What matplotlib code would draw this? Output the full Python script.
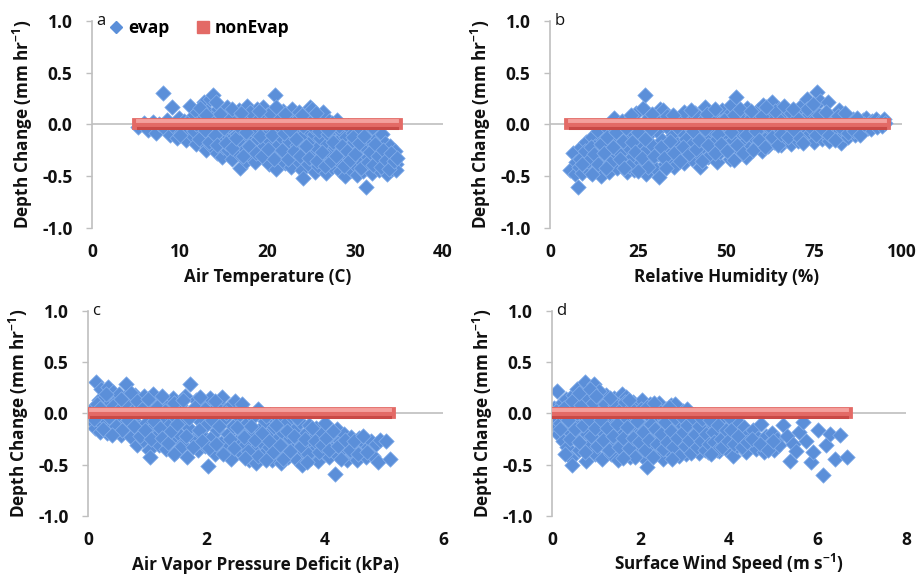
import numpy as np
import matplotlib.pyplot as plt
import matplotlib.transforms as mtransforms
from matplotlib.lines import Line2D

plt.rcParams['font.family'] = ['Open Sans', 'DejaVu Sans']
plt.rcParams['font.weight'] = 'bold'
plt.rcParams['axes.unicode_minus'] = False
plt.rcParams['mathtext.fontset'] = 'custom'
plt.rcParams['mathtext.rm'] = 'Open Sans:bold'
plt.rcParams['mathtext.default'] = 'regular'

# ---- data: (x, depth change) ----
temp_pts = [
    (5.3, -0.02), (5.9, 0.01), (6.4, -0.05), (6.9, 0.02), (7.3, -0.08), (7.6, 0.0), (8.1, 0.30), (8.3, -0.04),
    (8.6, 0.04), (8.9, -0.10), (9.1, 0.17), (9.4, -0.02), (9.7, -0.13), (9.9, 0.06), (10.2, -0.07), (10.5, 0.03),
    (10.7, -0.15), (11.0, -0.04), (11.2, 0.18), (11.4, 0.07), (11.5, -0.11), (11.8, -0.19), (12.0, 0.12), (12.1, -0.02),
    (12.4, -0.09), (12.5, 0.05), (12.7, -0.17), (12.8, 0.22), (13.0, -0.25), (13.1, 0.13), (13.2, 0.01), (13.4, 0.25),
    (13.5, -0.12), (13.6, -0.21), (13.8, 0.28), (13.9, 0.08), (14.1, -0.05), (14.2, -0.28), (14.4, 0.15), (14.5, -0.16),
    (14.7, 0.03), (14.8, -0.31), (14.9, -0.22), (15.1, 0.10), (15.2, -0.08), (15.4, 0.17), (15.5, -0.25), (15.6, -0.01),
    (15.8, -0.14), (15.9, -0.33), (16.1, 0.12), (16.2, -0.20), (16.3, 0.04), (16.5, -0.09), (16.6, -0.28), (16.8, 0.14),
    (16.9, -0.42), (17.0, -0.03), (17.1, -0.17), (17.3, 0.07), (17.4, -0.24), (17.5, -0.35), (17.7, 0.18), (17.8, -0.11),
    (17.9, 0.01), (18.1, -0.31), (18.2, 0.10), (18.3, -0.19), (18.5, -0.06), (18.6, -0.36), (18.8, 0.15), (18.9, -0.14),
    (19.0, -0.26), (19.2, 0.04), (19.3, -0.02), (19.5, 0.17), (19.6, -0.21), (19.7, -0.33), (19.9, -0.09), (20.0, 0.09),
    (20.2, -0.38), (20.3, -0.16), (20.4, 0.00), (20.6, -0.27), (20.7, 0.14), (20.9, 0.28), (21.0, -0.43), (21.1, -0.07),
    (21.2, -0.20), (21.4, 0.06), (21.5, -0.31), (21.7, -0.13), (21.8, 0.13), (22.0, -0.37), (22.1, -0.03), (22.2, -0.24),
    (22.4, 0.08), (22.5, -0.16), (22.7, -0.41), (22.8, 0.15), (22.9, -0.29), (23.1, -0.08), (23.2, 0.03), (23.4, -0.20),
    (23.5, -0.35), (23.6, 0.12), (23.8, -0.12), (23.9, -0.44), (24.1, -0.52), (24.2, -0.26), (24.3, 0.06), (24.5, -0.04),
    (24.6, -0.38), (24.8, 0.17), (24.9, -0.17), (25.0, -0.30), (25.1, 0.15), (25.3, -0.09), (25.4, -0.46), (25.5, 0.02),
    (25.7, -0.23), (25.8, -0.40), (26.0, -0.13), (26.1, 0.08), (26.3, 0.12), (26.4, -0.33), (26.5, -0.05), (26.7, -0.47),
    (26.8, -0.19), (27.0, 0.03), (27.1, -0.28), (27.3, -0.10), (27.4, -0.41), (27.6, -0.02), (27.7, -0.22), (27.9, 0.04),
    (28.0, -0.35), (28.1, -0.15), (28.3, -0.45), (28.4, -0.06), (28.6, -0.27), (28.8, -0.50), (28.9, -0.12), (29.0, -0.38),
    (29.2, -0.01), (29.3, -0.21), (29.5, -0.44), (29.6, -0.30), (29.8, -0.08), (29.9, -0.17), (30.1, -0.40), (30.2, -0.49),
    (30.3, -0.25), (30.5, -0.04), (30.6, -0.34), (30.8, -0.14), (30.9, -0.45), (31.1, -0.22), (31.2, -0.60), (31.3, -0.08),
    (31.5, -0.31), (31.6, -0.40), (31.8, -0.17), (31.9, -0.47), (32.1, -0.26), (32.2, -0.05), (32.4, -0.36), (32.5, -0.13),
    (32.7, -0.44), (32.8, -0.22), (33.0, -0.31), (33.1, -0.09), (33.3, -0.40), (33.4, -0.18), (33.6, -0.48), (33.7, -0.27),
    (33.9, -0.35), (34.0, -0.21), (34.2, -0.43), (34.3, -0.30), (34.5, -0.26), (34.6, -0.38), (34.7, -0.44),
]
temp_pts_core = [
    (10.0, -0.10), (10.8, 0.01), (11.6, -0.06), (12.2, -0.14), (12.9, -0.05), (13.3, -0.17), (13.7, 0.02), (14.0, -0.10),
    (14.3, -0.20), (14.6, 0.10), (15.0, -0.03), (15.3, -0.18), (15.7, 0.05), (16.0, -0.23), (16.4, -0.13), (16.7, -0.02),
    (17.2, -0.30), (17.6, -0.07), (17.9, -0.21), (18.4, 0.04), (18.7, -0.28), (19.1, -0.11), (19.4, -0.30), (19.8, 0.01),
    (20.1, -0.24), (20.5, -0.10), (20.8, -0.33), (21.3, -0.01), (21.6, -0.25), (21.9, -0.08), (22.3, -0.33), (22.6, -0.05),
    (23.0, -0.26), (23.3, -0.14), (23.7, -0.30), (24.0, -0.01), (24.4, -0.21), (24.7, -0.32), (25.2, -0.02), (25.6, -0.35),
    (25.9, -0.06), (26.2, -0.27), (26.6, -0.40), (26.9, -0.09), (27.2, -0.35), (27.5, -0.17), (27.8, -0.30), (28.2, -0.01),
    (28.5, -0.21), (28.7, -0.40), (29.1, -0.26), (29.4, -0.34), (29.7, -0.12), (30.0, -0.29), (30.4, -0.18), (30.7, -0.42),
    (31.0, -0.11), (31.4, -0.36), (31.7, -0.27), (32.0, -0.39), (32.3, -0.19), (32.6, -0.30), (32.9, -0.41), (33.2, -0.25),
    (33.5, -0.34), (33.8, -0.43), (34.1, -0.28), (34.4, -0.35), (34.8, -0.32), (16.0, 0.15), (18.0, 0.12), (20.3, 0.11),
    (22.0, 0.10), (23.9, 0.09), (25.5, 0.11), (27.3, 0.01), (11.9, 0.00), (12.3, 0.16), (14.1, 0.22), (13.0, 0.09),
    (19.0, 0.13), (26.9, -0.05), (21.0, 0.17), (17.0, 0.11),
]

rh_pts = [
    (5.8, -0.44), (6.5, -0.28), (7.0, -0.48), (7.5, -0.36), (8.0, -0.60), (8.3, -0.41), (8.8, -0.22), (9.2, -0.47),
    (9.6, -0.31), (10.1, -0.17), (10.5, -0.40), (11.0, -0.26), (11.4, -0.46), (11.9, -0.12), (12.3, -0.34), (12.8, -0.21),
    (13.2, -0.44), (13.7, -0.06), (14.1, -0.29), (14.6, -0.50), (15.0, -0.15), (15.5, -0.38), (15.9, -0.02), (16.4, -0.24),
    (16.8, -0.46), (17.3, -0.10), (17.7, -0.33), (18.2, 0.06), (18.6, -0.19), (19.1, -0.42), (19.5, -0.04), (20.0, -0.28),
    (20.4, 0.03), (20.9, -0.37), (21.3, -0.14), (21.8, -0.46), (22.2, -0.22), (22.7, 0.05), (23.1, -0.32), (23.6, -0.08),
    (24.0, -0.44), (24.5, 0.11), (24.9, -0.18), (25.4, -0.38), (25.8, -0.01), (26.3, 0.16), (26.7, -0.27), (27.0, 0.28),
    (27.2, -0.48), (27.6, -0.11), (28.1, 0.07), (28.5, -0.35), (29.0, -0.20), (29.4, 0.02), (29.9, -0.42), (30.3, -0.06),
    (30.8, -0.29), (31.0, -0.51), (31.3, 0.15), (31.7, -0.15), (32.2, 0.14), (32.6, -0.38), (33.1, -0.02), (33.5, -0.24),
    (34.0, 0.05), (34.4, -0.33), (34.9, -0.10), (35.3, -0.41), (35.8, 0.03), (36.2, -0.19), (36.7, -0.30), (37.1, -0.06),
    (37.6, 0.09), (38.0, -0.37), (38.5, -0.14), (38.9, -0.25), (39.4, 0.06), (39.8, -0.03), (40.3, -0.33), (40.7, -0.18),
    (41.2, 0.11), (41.6, -0.09), (42.1, -0.28), (42.5, -0.41), (43.0, 0.02), (43.4, -0.21), (43.9, 0.17), (44.3, -0.12),
    (44.8, -0.31), (45.2, 0.07), (45.7, -0.04), (46.1, -0.24), (46.6, 0.13), (47.0, -0.16), (47.5, -0.36), (47.9, 0.01),
    (48.4, -0.27), (48.8, 0.14), (49.3, -0.10), (49.7, -0.21), (50.2, 0.08), (50.6, -0.02), (51.1, -0.33), (51.5, 0.19),
    (52.0, -0.15), (52.4, -0.34), (52.9, 0.27), (53.3, 0.05), (53.8, -0.25), (54.2, -0.08), (54.7, 0.12), (55.1, -0.18),
    (55.6, -0.31), (56.0, 0.16), (56.5, -0.03), (56.9, -0.22), (57.4, 0.09), (57.8, -0.12), (58.3, 0.01), (58.7, -0.20),
    (59.2, 0.14), (59.6, -0.07), (60.1, -0.26), (60.5, 0.19), (61.0, -0.14), (61.4, 0.04), (61.9, -0.21), (62.3, 0.10),
    (62.8, -0.05), (63.2, 0.22), (63.7, -0.17), (64.1, 0.02), (64.6, -0.10), (65.0, 0.15), (65.5, -0.20), (65.9, 0.07),
    (66.4, -0.02), (66.8, -0.15), (67.3, 0.12), (67.7, -0.07), (68.2, 0.03), (68.6, -0.19), (69.1, 0.09), (69.5, -0.11),
    (70.0, -0.01), (70.4, -0.16), (70.9, 0.12), (71.3, 0.18), (71.8, -0.06), (72.2, 0.04), (72.7, -0.13), (73.1, 0.25),
    (73.6, 0.10), (74.0, -0.08), (74.5, 0.02), (74.9, -0.17), (75.4, 0.13), (75.8, 0.31), (76.3, -0.03), (76.7, 0.23),
    (77.2, -0.14), (77.6, 0.06), (78.1, -0.09), (78.5, 0.01), (79.0, 0.22), (79.4, -0.16), (79.9, -0.05), (80.3, 0.07),
    (80.8, -0.11), (81.2, 0.03), (81.7, -0.07), (82.1, 0.14), (82.6, -0.18), (83.0, 0.00), (83.5, -0.09), (83.9, 0.06),
    (84.4, -0.04), (84.8, -0.12), (85.3, 0.02), (85.7, -0.06), (86.2, 0.05), (86.6, -0.10), (87.1, -0.02), (87.5, 0.03),
    (88.0, -0.07), (88.4, -0.01), (88.9, 0.04), (89.3, -0.05), (89.8, 0.06), (90.2, -0.03), (90.7, 0.01), (91.1, -0.04),
    (91.6, 0.03), (92.0, 0.00), (92.5, 0.05), (93.0, -0.02), (93.6, 0.02), (94.2, -0.01), (94.8, 0.05), (95.3, 0.01),
]
rh_pts_core = [
    (8.5, -0.33), (9.9, -0.26), (10.8, -0.35), (11.7, -0.22), (12.6, -0.29), (13.5, -0.38), (14.4, -0.19), (15.2, -0.28),
    (16.1, -0.12), (17.0, -0.37), (17.9, -0.22), (18.8, -0.07), (19.8, -0.33), (20.6, -0.16), (21.5, -0.03), (22.4, -0.40),
    (23.3, -0.17), (24.2, -0.27), (25.1, -0.07), (26.0, -0.32), (26.9, -0.14), (27.8, -0.41), (28.7, -0.04), (29.6, -0.30),
    (30.5, 0.04), (31.5, -0.22), (32.4, -0.32), (33.3, 0.08), (34.2, -0.16), (35.1, -0.28), (36.0, -0.02), (36.9, -0.35),
    (37.8, -0.22), (38.7, 0.01), (39.6, -0.29), (40.5, -0.06), (41.4, -0.24), (42.3, -0.15), (43.2, -0.35), (44.1, -0.04),
    (45.0, -0.20), (45.9, 0.10), (46.8, -0.28), (47.7, -0.09), (48.6, -0.19), (49.5, 0.04), (50.4, -0.26), (51.3, -0.07),
    (52.2, 0.09), (53.1, -0.20), (54.0, 0.15), (54.9, -0.28), (55.8, -0.10), (56.7, 0.05), (57.6, -0.25), (58.5, -0.06),
    (59.4, -0.15), (60.3, 0.08), (61.2, -0.22), (62.1, -0.01), (63.0, -0.12), (63.9, 0.13), (64.8, -0.20), (65.7, -0.09),
    (66.6, 0.18), (67.5, -0.12), (68.4, 0.11), (69.3, -0.05), (70.2, 0.06), (71.1, -0.13), (72.0, -0.18), (72.9, 0.15),
    (73.8, -0.02), (74.7, 0.20), (75.6, -0.10), (76.5, 0.09), (77.4, -0.04), (78.3, 0.12), (79.2, -0.10), (80.1, 0.01),
    (81.0, -0.15), (81.9, 0.08), (82.8, -0.03), (83.7, 0.11), (84.6, -0.08), (85.5, -0.02), (86.4, -0.06), (87.3, 0.06),
    (88.2, -0.10), (89.1, 0.00), (38.0, 0.12), (44.5, 0.10), (40.0, 0.14), (47.0, 0.15), (57.0, 0.13), (61.5, 0.17),
    (69.0, 0.15), (23.0, 0.09), (29.0, 0.10), (35.0, 0.09), (9.0, -0.38), (12.0, -0.48), (16.0, -0.42), (21.0, -0.42),
    (25.0, -0.45), (33.0, -0.42),
]

vpd_pts = [
    (0.05, 0.02), (0.08, -0.08), (0.10, 0.06), (0.12, -0.14), (0.14, 0.31), (0.16, -0.03), (0.18, 0.13), (0.20, -0.18),
    (0.22, 0.24), (0.24, -0.10), (0.26, 0.04), (0.28, 0.16), (0.30, -0.06), (0.32, -0.19), (0.34, 0.26), (0.36, 0.09),
    (0.38, -0.13), (0.40, 0.01), (0.42, 0.21), (0.45, -0.17), (0.47, 0.12), (0.50, -0.04), (0.52, 0.19), (0.55, -0.21),
    (0.57, 0.06), (0.60, -0.10), (0.62, 0.16), (0.65, 0.29), (0.67, -0.15), (0.70, 0.03), (0.72, -0.23), (0.75, 0.13),
    (0.77, -0.07), (0.80, 0.18), (0.82, -0.31), (0.85, 0.00), (0.88, -0.18), (0.90, 0.10), (0.93, -0.26), (0.95, 0.17),
    (0.98, -0.09), (1.00, 0.05), (1.03, -0.36), (1.05, -0.42), (1.07, -0.15), (1.10, 0.19), (1.12, 0.02), (1.15, -0.22),
    (1.18, 0.10), (1.20, -0.31), (1.23, -0.05), (1.26, 0.13), (1.28, -0.18), (1.31, -0.35), (1.34, 0.06), (1.37, -0.11),
    (1.40, -0.26), (1.43, 0.15), (1.46, -0.02), (1.49, -0.38), (1.52, -0.19), (1.55, 0.08), (1.58, -0.30), (1.61, -0.08),
    (1.64, 0.17), (1.67, -0.42), (1.70, -0.14), (1.73, 0.29), (1.76, 0.01), (1.79, -0.25), (1.82, 0.13), (1.85, -0.36),
    (1.88, -0.06), (1.91, -0.20), (1.94, 0.11), (1.97, -0.32), (2.00, -0.11), (2.03, -0.51), (2.06, 0.15), (2.09, -0.23),
    (2.12, 0.03), (2.15, -0.40), (2.18, -0.16), (2.21, 0.09), (2.24, -0.29), (2.27, 0.16), (2.30, -0.05), (2.33, -0.35),
    (2.36, -0.20), (2.39, 0.06), (2.42, -0.44), (2.45, -0.12), (2.48, 0.12), (2.51, -0.27), (2.54, -0.02), (2.57, -0.38),
    (2.60, -0.18), (2.63, 0.03), (2.66, -0.31), (2.69, -0.09), (2.72, -0.45), (2.75, -0.22), (2.78, -0.03), (2.81, -0.36),
    (2.84, -0.48), (2.87, 0.04), (2.90, -0.15), (2.93, -0.28), (2.96, -0.40), (2.99, -0.07), (3.02, -0.21), (3.05, -0.33),
    (3.08, -0.01), (3.11, -0.45), (3.14, -0.13), (3.17, -0.26), (3.20, -0.38), (3.23, -0.05), (3.26, -0.48), (3.29, -0.19),
    (3.32, -0.31), (3.35, -0.09), (3.38, -0.42), (3.41, -0.24), (3.44, -0.03), (3.47, -0.35), (3.50, -0.15), (3.53, -0.45),
    (3.56, -0.27), (3.59, -0.08), (3.62, -0.50), (3.65, -0.38), (3.68, -0.19), (3.71, -0.30), (3.74, -0.11), (3.77, -0.43),
    (3.80, -0.24), (3.83, -0.35), (3.86, -0.14), (3.89, -0.46), (3.92, -0.28), (3.95, -0.19), (3.98, -0.39), (4.01, -0.09),
    (4.04, -0.31), (4.07, -0.42), (4.10, -0.22), (4.13, -0.35), (4.17, -0.59), (4.20, -0.15), (4.23, -0.41), (4.26, -0.27),
    (4.30, -0.36), (4.33, -0.20), (4.37, -0.45), (4.40, -0.30), (4.44, -0.23), (4.47, -0.40), (4.51, -0.33), (4.55, -0.45),
    (4.58, -0.24), (4.62, -0.37), (4.66, -0.29), (4.70, -0.42), (4.74, -0.33), (4.78, -0.27), (4.82, -0.41), (4.86, -0.30),
    (4.90, -0.47), (4.94, -0.26), (5.04, -0.27), (5.10, -0.44),
]
vpd_pts_core = [
    (0.10, -0.05), (0.15, 0.09), (0.25, -0.15), (0.30, 0.19), (0.35, -0.03), (0.43, 0.07), (0.48, -0.12), (0.53, 0.03),
    (0.58, -0.16), (0.63, 0.10), (0.68, -0.06), (0.73, 0.20), (0.78, -0.12), (0.83, 0.12), (0.87, -0.22), (0.92, 0.04),
    (0.97, -0.16), (1.02, 0.14), (1.06, -0.25), (1.11, -0.07), (1.16, 0.06), (1.21, -0.14), (1.25, -0.24), (1.30, 0.02),
    (1.35, -0.29), (1.41, -0.17), (1.45, 0.10), (1.50, -0.10), (1.56, -0.34), (1.60, 0.13), (1.65, -0.22), (1.71, -0.04),
    (1.77, -0.33), (1.81, 0.06), (1.87, -0.16), (1.93, -0.27), (1.98, 0.04), (2.04, -0.34), (2.10, -0.06), (2.16, -0.30),
    (2.22, -0.12), (2.28, -0.40), (2.34, 0.00), (2.40, -0.25), (2.46, -0.34), (2.52, -0.13), (2.58, 0.05), (2.64, -0.23),
    (2.70, -0.37), (2.76, -0.12), (2.82, -0.26), (2.88, -0.41), (2.94, -0.19), (3.00, -0.02), (3.06, -0.27), (3.12, -0.38),
    (3.18, -0.11), (3.24, -0.31), (3.30, -0.44), (3.36, -0.17), (3.42, -0.37), (3.48, -0.22), (3.54, -0.04), (3.60, -0.32),
    (3.66, -0.25), (3.72, -0.40), (3.78, -0.14), (3.84, -0.27), (3.90, -0.38), (3.96, -0.31), (4.02, -0.24), (4.08, -0.36),
    (4.14, -0.17), (4.22, -0.32), (4.28, -0.44), (4.35, -0.26), (4.42, -0.36), (4.50, -0.27), (4.57, -0.40), (4.65, -0.22),
    (4.72, -0.38), (0.20, 0.05), (0.55, 0.14), (1.25, 0.17), (1.90, 0.16), (2.15, 0.12), (2.60, 0.09), (0.40, -0.21),
    (1.45, -0.40), (2.65, -0.43), (3.00, -0.45), (3.70, -0.47),
]

wind_pts = [
    (0.02, -0.04), (0.05, 0.05), (0.08, -0.13), (0.11, 0.22), (0.13, -0.20), (0.16, 0.02), (0.19, -0.09), (0.22, 0.10),
    (0.25, -0.27), (0.28, -0.02), (0.31, 0.14), (0.33, -0.33), (0.36, -0.16), (0.39, 0.06), (0.42, -0.43), (0.45, -0.50),
    (0.47, 0.18), (0.50, -0.07), (0.53, -0.24), (0.56, 0.24), (0.59, 0.09), (0.62, -0.36), (0.65, -0.14), (0.68, 0.15),
    (0.71, -0.02), (0.75, 0.31), (0.77, -0.46), (0.80, -0.20), (0.83, 0.07), (0.86, -0.30), (0.89, 0.19), (0.92, -0.10),
    (0.95, 0.29), (0.98, -0.40), (1.01, 0.02), (1.04, -0.25), (1.07, 0.13), (1.10, -0.16), (1.13, -0.44), (1.16, 0.04),
    (1.19, -0.33), (1.22, 0.18), (1.25, -0.06), (1.28, -0.22), (1.31, 0.10), (1.34, -0.40), (1.37, -0.12), (1.40, 0.15),
    (1.43, -0.30), (1.46, -0.01), (1.49, -0.45), (1.52, 0.12), (1.55, -0.19), (1.58, 0.19), (1.61, -0.35), (1.64, -0.08),
    (1.67, 0.16), (1.70, -0.27), (1.73, 0.03), (1.76, -0.42), (1.79, -0.14), (1.82, 0.11), (1.85, -0.32), (1.88, -0.03),
    (1.91, -0.21), (1.94, 0.07), (1.97, -0.38), (2.00, -0.10), (2.03, 0.13), (2.06, -0.27), (2.09, 0.01), (2.12, -0.45),
    (2.15, -0.52), (2.18, -0.17), (2.21, 0.09), (2.24, -0.34), (2.27, -0.05), (2.30, -0.23), (2.33, 0.06), (2.36, -0.40),
    (2.39, -0.13), (2.42, 0.10), (2.45, -0.30), (2.48, -0.02), (2.51, -0.44), (2.54, -0.19), (2.57, 0.04), (2.60, -0.36),
    (2.63, -0.09), (2.66, -0.25), (2.69, 0.08), (2.72, -0.40), (2.75, -0.14), (2.78, 0.09), (2.81, -0.31), (2.84, -0.04),
    (2.87, -0.21), (2.90, -0.38), (2.93, -0.11), (2.96, 0.02), (2.99, -0.28), (3.02, -0.40), (3.05, 0.04), (3.08, -0.17),
    (3.11, -0.33), (3.14, -0.06), (3.17, -0.24), (3.20, -0.36), (3.23, -0.01), (3.26, -0.14), (3.29, -0.29), (3.32, -0.39),
    (3.35, -0.08), (3.38, -0.21), (3.41, -0.32), (3.44, -0.03), (3.47, -0.17), (3.50, -0.27), (3.53, -0.38), (3.56, -0.10),
    (3.59, -0.22), (3.62, -0.02), (3.65, -0.33), (3.68, -0.15), (3.71, -0.26), (3.74, -0.06), (3.77, -0.37), (3.80, -0.19),
    (3.83, -0.29), (3.86, -0.09), (3.90, -0.22), (3.94, -0.35), (3.98, -0.13), (4.02, -0.04), (4.06, -0.27), (4.10, -0.41),
    (4.14, -0.18), (4.18, -0.32), (4.23, -0.09), (4.28, -0.24), (4.33, -0.13), (4.38, -0.38), (4.43, -0.20), (4.48, -0.29),
    (4.54, -0.16), (4.60, -0.35), (4.66, -0.24), (4.72, -0.10), (4.78, -0.38), (4.84, -0.22), (4.90, -0.30), (4.96, -0.19),
    (5.02, -0.36), (5.08, -0.25), (5.14, -0.31), (5.23, -0.11), (5.30, -0.22), (5.38, -0.46), (5.45, -0.30), (5.52, -0.37),
    (5.58, -0.18), (5.68, -0.08), (5.75, -0.27), (5.85, -0.47), (5.90, -0.38), (6.02, -0.16), (6.13, -0.60), (6.20, -0.31),
    (6.28, -0.20), (6.40, -0.44), (6.51, -0.21), (6.66, -0.42),
]
wind_pts_core = [
    (0.10, 0.02), (0.18, -0.15), (0.27, 0.05), (0.35, -0.06), (0.40, -0.25), (0.46, 0.12), (0.52, -0.15), (0.57, 0.00),
    (0.61, -0.28), (0.66, 0.08), (0.70, -0.11), (0.74, -0.38), (0.79, 0.16), (0.84, -0.05), (0.88, -0.22), (0.93, 0.10),
    (0.97, -0.14), (1.02, -0.32), (1.06, 0.22), (1.11, -0.06), (1.15, -0.26), (1.20, 0.09), (1.24, -0.14), (1.29, -0.36),
    (1.33, 0.02), (1.38, -0.22), (1.42, 0.08), (1.47, -0.10), (1.51, -0.33), (1.56, 0.04), (1.60, -0.24), (1.65, 0.11),
    (1.69, -0.13), (1.74, -0.34), (1.78, 0.05), (1.83, -0.24), (1.87, -0.42), (1.92, -0.07), (1.96, -0.28), (2.01, 0.04),
    (2.05, -0.18), (2.10, -0.36), (2.14, 0.06), (2.19, -0.26), (2.23, -0.10), (2.28, -0.42), (2.32, -0.15), (2.37, -0.30),
    (2.41, 0.02), (2.46, -0.20), (2.50, -0.35), (2.55, -0.08), (2.59, -0.28), (2.64, 0.06), (2.68, -0.17), (2.73, -0.33),
    (2.77, -0.04), (2.82, -0.24), (2.86, -0.41), (2.91, -0.02), (2.95, -0.18), (3.00, -0.32), (3.04, -0.11), (3.09, -0.26),
    (3.13, -0.39), (3.18, -0.04), (3.22, -0.20), (3.27, -0.33), (3.31, -0.12), (3.36, -0.27), (3.40, -0.05), (3.45, -0.36),
    (3.49, -0.20), (3.54, -0.30), (3.58, -0.06), (3.63, -0.18), (3.67, -0.28), (3.72, -0.36), (3.76, -0.11), (3.81, -0.25),
    (3.85, -0.33), (3.92, -0.16), (3.97, -0.27), (4.04, -0.16), (4.12, -0.30), (4.20, -0.22), (4.30, -0.33), (4.40, -0.28),
    (4.52, -0.25), (4.70, -0.30), (4.88, -0.36), (5.00, -0.27), (0.60, 0.20), (0.85, 0.24), (1.00, 0.17), (1.30, 0.15),
    (1.75, 0.13), (2.30, 0.10), (0.30, -0.40), (1.60, -0.43), (2.70, -0.44), (3.60, -0.40),
]

panel_letters = ['a', 'b', 'c', 'd']
x_labels = ['Air Temperature (C)', 'Relative Humidity (%)',
            'Air Vapor Pressure Deficit (kPa)', r'Surface Wind Speed (m s$^{-1}$)']
x_limits = [(0, 40), (0, 100), (0, 6), (0, 8)]
x_ticks = [[0, 10, 20, 30, 40], [0, 25, 50, 75, 100], [0, 2, 4, 6], [0, 2, 4, 6, 8]]
y_ticks = [1.0, 0.5, 0.0, -0.5, -1.0]
y_label = r'Depth Change (mm hr$^{-1}$)'

BLUE = '#5b8fd9'
BLUE_EDGE = '#86b0ec'
RED = '#e36a66'
RED_LIGHT = '#f4a09d'
RED_DARK = '#c94946'
GREY = '#bfbfbf'
TEXT = '#111111'

fig = plt.figure(figsize=(9.19, 5.76), dpi=100)
positions = [
    [0.1001, 0.6042, 0.3819, 0.3594],
    [0.5985, 0.6042, 0.3830, 0.3594],
    [0.0958, 0.1042, 0.3863, 0.3559],
    [0.6007, 0.1042, 0.3852, 0.3559],
]
panels = [temp_pts + temp_pts_core, rh_pts + rh_pts_core,
          vpd_pts + vpd_pts_core, wind_pts + wind_pts_core]

for i, pts in enumerate(panels):
    ax = fig.add_axes(positions[i])
    xs = np.array([p[0] for p in pts])
    ys = np.array([p[1] for p in pts])

    ax.axhline(0, color=GREY, lw=1.2, zorder=0.5)
    ax.scatter(xs, ys, marker='D', s=62, color=BLUE, edgecolors=BLUE_EDGE,
               linewidths=0.5, zorder=2)

    # nonEvap: every observation sits at zero, drawn as a thick bar
    xs_sorted = np.sort(xs)
    zeros = np.zeros_like(xs_sorted)
    ax.plot(xs_sorted, zeros, color=RED, lw=8.5, solid_capstyle='projecting', zorder=3)
    up = mtransforms.offset_copy(ax.transData, fig=fig, y=2.3, units='points')
    dn = mtransforms.offset_copy(ax.transData, fig=fig, y=-2.6, units='points')
    ax.plot(xs_sorted, zeros, color=RED_LIGHT, lw=2.8, solid_capstyle='projecting',
            transform=up, zorder=4)
    ax.plot(xs_sorted, zeros, color=RED_DARK, lw=2.2, solid_capstyle='projecting',
            transform=dn, zorder=4)

    ax.set_xlim(*x_limits[i])
    ax.set_ylim(-1.0, 1.0)
    ax.set_xticks(x_ticks[i])
    ax.set_yticks(y_ticks)
    ax.set_yticklabels([f'{v:.1f}' for v in y_ticks])
    for s in ['top', 'right', 'bottom']:
        ax.spines[s].set_visible(False)
    ax.spines['left'].set_color(GREY)
    ax.spines['left'].set_linewidth(1.2)
    ax.tick_params(axis='y', length=4, width=1, color=GREY, pad=10,
                   labelsize=12.5, labelcolor=TEXT)
    ax.tick_params(axis='x', length=0, pad=11, labelsize=12.5, labelcolor=TEXT)
    xlab = ax.set_xlabel(x_labels[i], fontsize=12.3, fontweight='bold', color=TEXT)
    xlab.set_verticalalignment('baseline')
    ax.xaxis.set_label_coords(0.5, -0.262)
    ax.set_ylabel(y_label, fontsize=12.3, fontweight='bold', labelpad=5, color=TEXT)
    ax.text(0.012, 1.0, panel_letters[i], transform=ax.transAxes, fontsize=12,
            fontweight='normal', va='center', ha='left', color=TEXT)

    if i == 0:
        handles = [
            Line2D([], [], marker='D', ls='none', color=BLUE, markersize=6),
            Line2D([], [], marker='s', ls='none', color=RED, markersize=9),
        ]
        ax.legend(handles, ['evap', 'nonEvap'], ncol=2, frameon=False,
                  loc='upper left', bbox_to_anchor=(0.0, 1.085), fontsize=12.5,
                  handletextpad=0.2, columnspacing=1.4, handlelength=1.0)

fig.savefig('out.png', dpi=100)
